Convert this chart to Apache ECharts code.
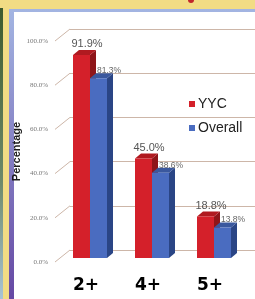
<!DOCTYPE html>
<html lang="en">
<head>
  <meta charset="UTF-8">
  <title>Percentage</title>
  <script src="https://cdn.jsdelivr.net/npm/echarts@6/dist/echarts.min.js"></script>
  <style>
    html, body { margin: 0; padding: 0; }
    #main { width: 255px; height: 299px; }
  </style>
</head>
<body>
  <div id="main"></div>
  <script>
    // 数据
    var categories = ['2+', '4+', '5+'];
    var yycValues = [91.9, 45.0, 18.8];
    var overallValues = [81.3, 38.6, 13.8];
    var yTicks = [0, 20, 40, 60, 80, 100];

    var DX = 6, DY = 5; // 立体柱的深度
    var gridColor = '#cdb6a8';

    function bar3d(side, fill, sideFill, topFill, labelSize) {
      return function (params, api) {
        var c = api.coord([api.value(0), api.value(1)]);
        var base = api.coord([api.value(0), 0]);
        var w = 17;
        var x0 = side < 0 ? c[0] - 18 : c[0] - 1;
        var x1 = x0 + w;
        var yt = c[1], yb = base[1];
        var v = api.value(1);
        var txt = side < 0
          ? { type: 'text', style: { text: v.toFixed(1) + '%', x: x0 + 14, y: yt - 5, textAlign: 'center', textVerticalAlign: 'bottom', fill: '#555', font: labelSize + 'px Liberation Sans' } }
          : { type: 'text', style: { text: v.toFixed(1) + '%', x: x0 + 7, y: yt - 3, textAlign: 'left', textVerticalAlign: 'bottom', fill: '#666', font: labelSize + 'px Liberation Sans' } };
        return {
          type: 'group',
          children: [
            { type: 'polygon', shape: { points: [[x1, yt], [x1 + DX, yt - DY], [x1 + DX, yb - DY], [x1, yb]] }, style: { fill: sideFill } },
            { type: 'polygon', shape: { points: [[x0, yt], [x0 + DX, yt - DY], [x1 + DX, yt - DY], [x1, yt]] }, style: { fill: topFill } },
            { type: 'rect', shape: { x: x0, y: yt, width: w, height: yb - yt }, style: { fill: fill } },
            txt
          ]
        };
      };
    }

    var frame = [
      { type: 'rect', shape: { x: 0, y: 8, width: 3, height: 291 }, style: { fill: new echarts.graphic.LinearGradient(0, 0, 0, 1, [{ offset: 0, color: '#3d5a2c' }, { offset: 0.6, color: '#6d8a6a' }, { offset: 1, color: '#a9c4d6' }]) }, z: -10 },
      { type: 'rect', shape: { x: 9, y: 9, width: 250, height: 295 }, style: { fill: new echarts.graphic.LinearGradient(0, 0, 0, 1, [{ offset: 0, color: '#a3b5e2' }, { offset: 1, color: '#6446a2' }]) }, z: -10 },
      { type: 'rect', shape: { x: 14, y: 12, width: 250, height: 295 }, style: { fill: '#ffffff' }, z: -10 },
      { type: 'circle', shape: { cx: 191, cy: 0, r: 3 }, style: { fill: '#c0262a' }, z: -10 }
    ];

    var chart = echarts.init(document.getElementById('main'));
    chart.setOption({
      animation: false,
      backgroundColor: '#f2dc84',
      graphic: frame,
      legend: {
        orient: 'vertical',
        left: 184,
        top: 92,
        itemWidth: 6,
        itemHeight: 6,
        itemGap: 10,
        icon: 'rect',
        textStyle: { fontSize: 14, color: '#222', fontFamily: 'Liberation Sans', padding: [0, 0, 0, -2] },
        data: ['YYC', 'Overall']
      },
      grid: [
        { left: 60, right: 9, top: 37, bottom: 41 },   // 柱子前平面
        { left: 70, right: 0, top: 29, bottom: 49 },   // 背面网格
        { left: 52, right: 150, top: 41, bottom: 37 }  // 刻度标签
      ],
      xAxis: [
        {
          gridIndex: 0, type: 'category', data: categories,
          axisLine: { show: false }, axisTick: { show: false },
          axisLabel: { margin: 19, fontSize: 17, fontWeight: 'bold', color: '#000', fontFamily: 'DejaVu Sans', padding: [0, 10, 0, 0] }
        },
        { gridIndex: 1, type: 'value', min: 0, max: 1, show: false },
        { gridIndex: 2, type: 'value', min: 0, max: 1, show: false }
      ],
      yAxis: [
        { gridIndex: 0, type: 'value', min: 0, max: 100, show: false },
        {
          gridIndex: 1, type: 'value', min: 0, max: 100, interval: 20,
          axisLine: { show: false }, axisTick: { show: false }, axisLabel: { show: false },
          splitLine: { show: true, lineStyle: { color: gridColor, width: 1 } }
        },
        {
          gridIndex: 2, type: 'value', min: 0, max: 100, interval: 20,
          axisLine: { show: false }, axisTick: { show: false }, splitLine: { show: false },
          axisLabel: { fontSize: 7, color: '#777', margin: 4, fontFamily: 'Liberation Serif', formatter: function (v) { return v.toFixed(1) + '%'; } },
          name: 'Percentage', nameLocation: 'middle', nameRotate: 90, nameGap: 29,
          nameTextStyle: { fontSize: 11, color: '#1a1a1a', fontFamily: 'Liberation Sans Narrow, Liberation Sans', fontWeight: 'bold' }
        }
      ],
      series: [
        {
          name: 'YYC', type: 'custom', xAxisIndex: 0, yAxisIndex: 0,
          itemStyle: { color: '#d4202a' },
          data: categories.map(function (c, i) { return [i, yycValues[i]]; }),
          renderItem: bar3d(-1, '#d4202a', '#8e1519', '#b01a20', 11)
        },
        {
          name: 'Overall', type: 'custom', xAxisIndex: 0, yAxisIndex: 0,
          itemStyle: { color: '#4a6cc0' },
          data: categories.map(function (c, i) { return [i, overallValues[i]]; }),
          renderItem: bar3d(1, '#4a6cc0', '#2a4585', '#3a589e', 8.5)
        }
      ]
    });

    // 透视斜线：从背面网格线到刻度标签
    var diagonals = yTicks.map(function (t) {
      var p = chart.convertToPixel({ gridIndex: 1 }, [0, t]);
      return {
        type: 'line',
        shape: { x1: p[0] - 15, y1: p[1] + 12, x2: p[0], y2: p[1] },
        style: { stroke: gridColor, lineWidth: 1 },
        z: 1
      };
    });
    chart.setOption({ graphic: frame.concat(diagonals) });
  </script>
</body>
</html>
